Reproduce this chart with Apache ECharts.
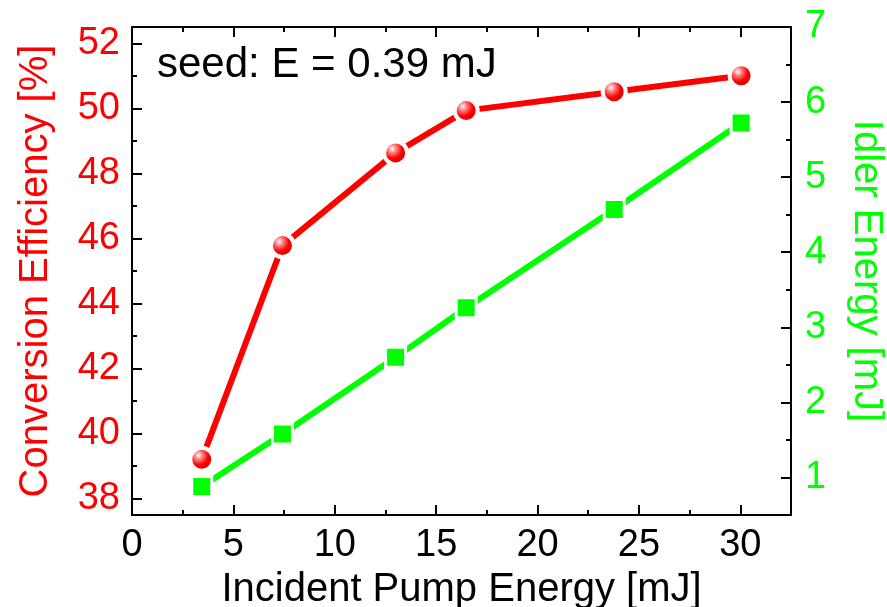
<!DOCTYPE html>
<html>
<head>
<meta charset="utf-8">
<script src="https://cdn.jsdelivr.net/npm/echarts@6/dist/echarts.min.js"></script>
<style>
html,body{margin:0;padding:0;background:#fff;}
#main{width:887px;height:607px;}
</style>
</head>
<body>
<div id="main"></div>
<script>
var pumpEnergy = [3.44, 7.42, 13.0, 16.48, 23.78, 30.04];
var efficiency = [39.21, 45.78, 48.63, 49.93, 50.51, 51.0];
var idlerEnergy = [0.88, 1.58, 2.6, 3.26, 4.57, 5.72];

var xMajor = [0, 5, 10, 15, 20, 25, 30];
var xMinor = [2.5, 7.5, 12.5, 17.5, 22.5, 27.5];
var leftMajor = [38, 40, 42, 44, 46, 48, 50, 52];
var leftMinor = [39, 41, 43, 45, 47, 49, 51];
var rightMajor = [1, 2, 3, 4, 5, 6, 7];
var rightMinor = [1.5, 2.5, 3.5, 4.5, 5.5, 6.5];

var FONT = 'Liberation Sans';
var RED = '#ff0000';
var GREEN = '#00ff00';

function pairs(xs, ys) {
    return xs.map(function (x, i) { return [x, ys[i]]; });
}

function tickAxis(pos, min, max, ticks, len, labels, extra) {
    var ax = {
        type: 'value',
        position: pos,
        min: min,
        max: max,
        splitLine: {show: false},
        axisLine: {show: !!extra, onZero: false, lineStyle: {color: '#000', width: 2}},
        axisTick: {show: true, inside: true, length: len, customValues: ticks,
            lineStyle: {color: '#000', width: 2}},
        axisLabel: {show: false}
    };
    if (labels) {
        ax.axisLabel = {show: true, customValues: labels, fontFamily: FONT,
            fontSize: 38, color: extra.labelColor, margin: extra.margin};
    }
    if (extra && extra.name) {
        ax.name = extra.name;
        ax.nameLocation = 'middle';
        ax.nameGap = extra.nameGap;
        ax.nameRotate = extra.nameRotate;
        ax.nameTextStyle = {fontFamily: FONT, fontSize: 40, color: extra.labelColor};
    }
    return ax;
}

var chart = echarts.init(document.getElementById('main'));
var option = {
    backgroundColor: '#fff',
    animation: false,
    grid: {left: 132, right: 96, top: 27, bottom: 92, containLabel: false, outerBoundsMode: 'none'},
    xAxis: [
        tickAxis('bottom', 0, 32.5, xMajor.slice(1), 10, xMajor,
            {labelColor: '#000', margin: 12, name: 'Incident Pump Energy [mJ]', nameGap: 43}),
        tickAxis('bottom', 0, 32.5, xMinor, 5),
        tickAxis('top', 0, 32.5, xMajor.slice(1), 10, null, {labelColor: '#000'}),
        tickAxis('top', 0, 32.5, xMinor, 5)
    ],
    yAxis: [
        tickAxis('left', 37.5, 52.5, leftMajor, 10, leftMajor,
            {labelColor: RED, margin: 12, name: 'Conversion Efficiency [%]', nameGap: 76, nameRotate: 90}),
        tickAxis('left', 37.5, 52.5, leftMinor, 5),
        tickAxis('right', 0.5, 7, rightMajor, 10, rightMajor,
            {labelColor: GREEN, margin: 14, name: 'Idler Energy [mJ]', nameGap: 55, nameRotate: -90}),
        tickAxis('right', 0.5, 7, rightMinor, 5)
    ],
    graphic: [{
        type: 'text',
        left: 157,
        top: 44,
        style: {text: 'seed: E = 0.39 mJ', fontFamily: FONT, fontSize: 42, fill: '#000'}
    }],
    series: [
        {
            type: 'line',
            xAxisIndex: 0,
            yAxisIndex: 2,
            data: pairs(pumpEnergy, idlerEnergy),
            symbol: 'rect',
            symbolSize: 20,
            lineStyle: {color: GREEN, width: 6},
            itemStyle: {color: GREEN, borderColor: '#fff', borderWidth: 3},
            z: 2
        },
        {
            type: 'line',
            xAxisIndex: 0,
            yAxisIndex: 0,
            data: pairs(pumpEnergy, efficiency),
            symbol: 'circle',
            symbolSize: 23,
            lineStyle: {color: RED, width: 6},
            itemStyle: {
                color: {
                    type: 'radial', x: 0.38, y: 0.35, r: 0.6,
                    colorStops: [
                        {offset: 0, color: '#ffffff'},
                        {offset: 0.25, color: '#ff8080'},
                        {offset: 0.6, color: '#ff0000'},
                        {offset: 1, color: '#d00000'}
                    ]
                },
                borderColor: '#fff',
                borderWidth: 4
            },
            z: 3
        }
    ]
};
chart.setOption(option);
</script>
</body>
</html>
